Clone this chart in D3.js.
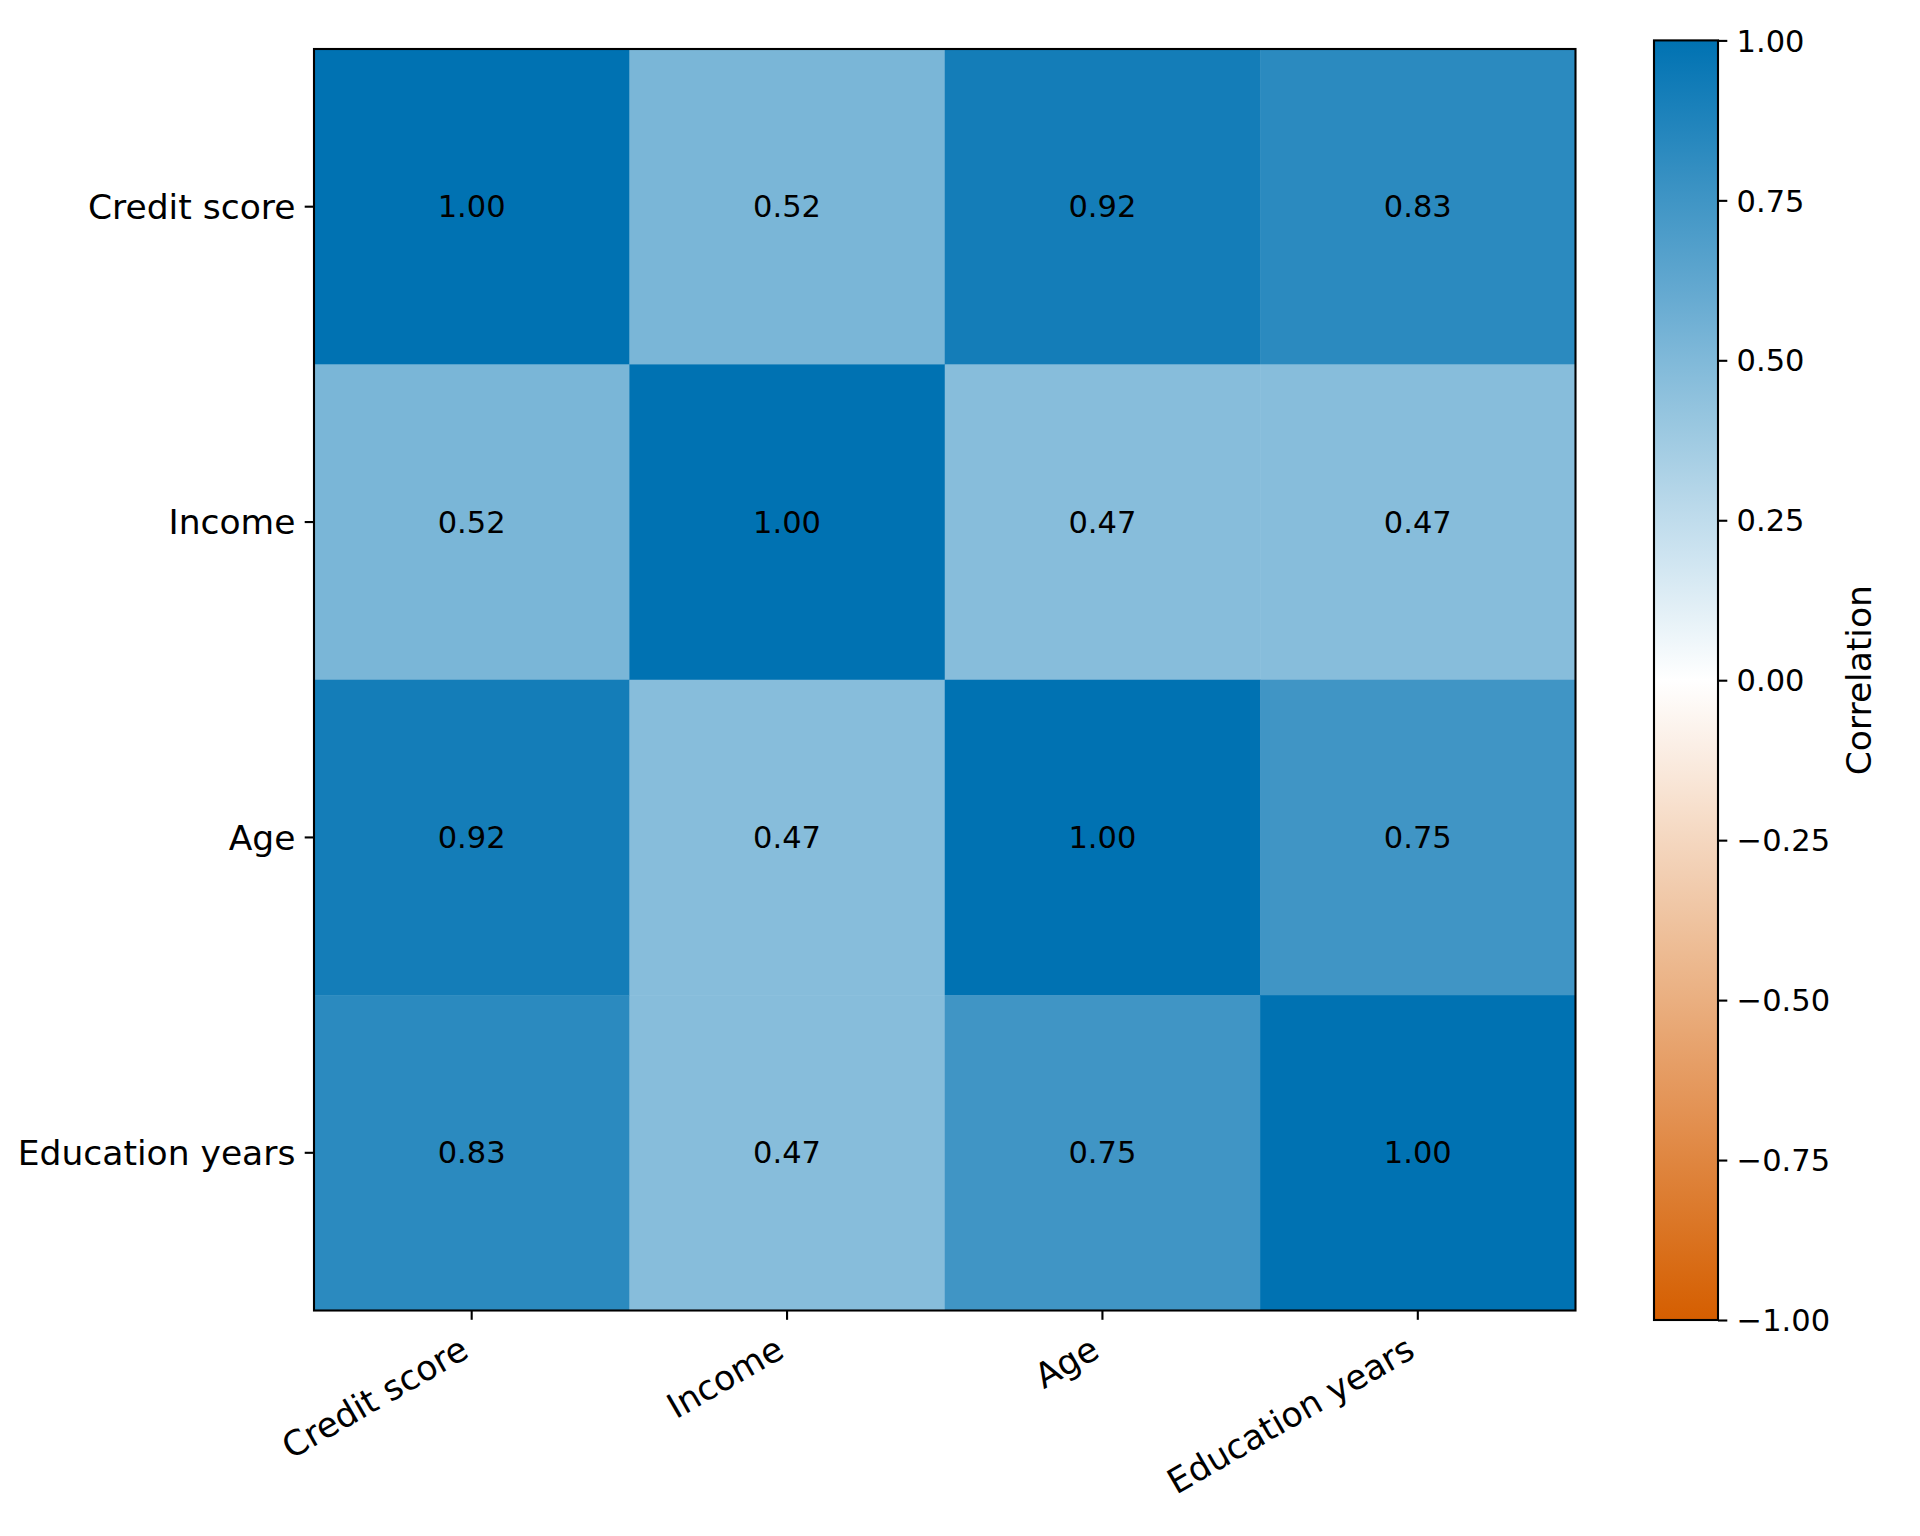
<!DOCTYPE html>
<html>
<head>
<meta charset="utf-8">
<script src="https://cdn.jsdelivr.net/npm/d3@7"></script>
<style>
    body { margin: 0; background: #fff; }
    text { font-family: "DejaVu Sans", sans-serif; }
</style>
</head>
<body>
<script>
// variables on both axes, same order for rows and columns
const variables = ["Credit score", "Income", "Age", "Education years"];
// correlation matrix, one row per variable
const creditRow = [1.00, 0.52, 0.92, 0.83];
const incomeRow = [0.52, 1.00, 0.47, 0.47];
const ageRow = [0.92, 0.47, 1.00, 0.75];
const educationRow = [0.83, 0.47, 0.75, 1.00];
const correlations = [creditRow, incomeRow, ageRow, educationRow];
// colorbar ticks
const colorTicks = [-1, -0.75, -0.5, -0.25, 0, 0.25, 0.5, 0.75, 1];
const colorLabel = "Correlation";

class HeatmapDrawer {
    constructor(width, height) {
        this.width = width;
        this.height = height;
        this.left = 314;
        this.top = 49;
        this.size = 1261.5;
        this.cbar = { left: 1654, right: 1718, top: 40.4, bottom: 1320 };
        this.tick = 9.3;
        this.pad = 9.3;

        this.color = d3.scaleLinear()
            .domain([-1, 0, 1])
            .range(["#D55E00", "#ffffff", "#0072B2"]);

        this.initialize();
    }

    initialize() {
        const { width, height } = this;
        this.svg = d3.select("body")
            .append("svg")
            .attr("width", width)
            .attr("height", height);

        this.drawCells();
        this.drawAxes();
        this.drawColorbar();
    }

    drawCells() {
        const { svg, left, top, size } = this;
        this.x = d3.scaleBand().domain(variables).range([left, left + size]);
        this.y = d3.scaleBand().domain(variables).range([top, top + size]);

        const cells = [];
        correlations.forEach((row, i) => {
            row.forEach((v, j) => cells.push({ row: variables[i], col: variables[j], v }));
        });

        svg.append("g").selectAll("rect")
            .data(cells)
            .join("rect")
            .attr("x", d => this.x(d.col))
            .attr("y", d => this.y(d.row))
            .attr("width", this.x.bandwidth() + 0.5)
            .attr("height", this.y.bandwidth() + 0.5)
            .attr("fill", d => this.color(d.v));

        svg.append("g").selectAll("text")
            .data(cells)
            .join("text")
            .attr("x", d => this.x(d.col) + this.x.bandwidth() / 2)
            .attr("y", d => this.y(d.row) + this.y.bandwidth() / 2)
            .attr("text-anchor", "middle")
            .attr("dominant-baseline", "central")
            .attr("font-size", "30.5px")
            .attr("fill", "#000")
            .text(d => d.v.toFixed(2));

        // frame
        svg.append("rect")
            .attr("x", left)
            .attr("y", top)
            .attr("width", size)
            .attr("height", size)
            .attr("fill", "none")
            .attr("stroke", "#000")
            .attr("stroke-width", 2.1);
    }

    drawAxes() {
        const { svg, left, top, size, tick, pad } = this;

        const yAxis = svg.append("g")
            .attr("transform", `translate(${left},0)`)
            .call(d3.axisLeft(this.y).tickSize(tick).tickPadding(pad).tickSizeOuter(0));
        yAxis.select(".domain").remove();
        yAxis.selectAll("line").attr("stroke-width", 2.1);
        yAxis.selectAll("text")
            .attr("font-size", "34.5px")
            .attr("fill", "#000")
            .attr("dy", "0.35em");

        const xAxis = svg.append("g")
            .attr("transform", `translate(0,${top + size})`)
            .call(d3.axisBottom(this.x).tickSize(tick).tickPadding(0).tickSizeOuter(0));
        xAxis.select(".domain").remove();
        xAxis.selectAll("line").attr("stroke-width", 2.1);
        // rotated labels, right edge of box at the tick
        xAxis.selectAll("text")
            .attr("font-size", "34.5px")
            .attr("fill", "#000")
            .attr("text-anchor", "end")
            .attr("dy", 0)
            .attr("y", 0)
            .attr("transform", `translate(-1,${tick + pad + 27})rotate(-30)`);
    }

    drawColorbar() {
        const { svg, cbar, color } = this;
        const grad = svg.append("defs")
            .append("linearGradient")
            .attr("id", "cbar-grad")
            .attr("x1", 0).attr("y1", 1)
            .attr("x2", 0).attr("y2", 0);
        grad.selectAll("stop")
            .data(d3.range(0, 1.0001, 0.05))
            .join("stop")
            .attr("offset", d => d)
            .attr("stop-color", d => color(-1 + 2 * d));

        svg.append("rect")
            .attr("x", cbar.left)
            .attr("y", cbar.top)
            .attr("width", cbar.right - cbar.left)
            .attr("height", cbar.bottom - cbar.top)
            .attr("fill", "url(#cbar-grad)")
            .attr("stroke", "#000")
            .attr("stroke-width", 2.1);

        const cScale = d3.scaleLinear().domain([-1, 1]).range([cbar.bottom, cbar.top]);
        const cAxis = svg.append("g")
            .attr("transform", `translate(${cbar.right},0)`)
            .call(d3.axisRight(cScale).tickValues(colorTicks)
                .tickFormat(d3.format(".2f"))
                .tickSize(this.tick).tickPadding(this.pad).tickSizeOuter(0));
        cAxis.select(".domain").remove();
        cAxis.selectAll("line").attr("stroke-width", 2.1);
        cAxis.selectAll("text")
            .attr("font-size", "30.5px")
            .attr("fill", "#000")
            .attr("dy", "0.35em");

        svg.append("text")
            .attr("transform", `translate(1859,${(cbar.top + cbar.bottom) / 2})rotate(-90)`)
            .attr("text-anchor", "middle")
            .attr("dominant-baseline", "central")
            .attr("font-size", "34.5px")
            .attr("fill", "#000")
            .text(colorLabel);
    }
}

new HeatmapDrawer(1920, 1536);
</script>
</body>
</html>
